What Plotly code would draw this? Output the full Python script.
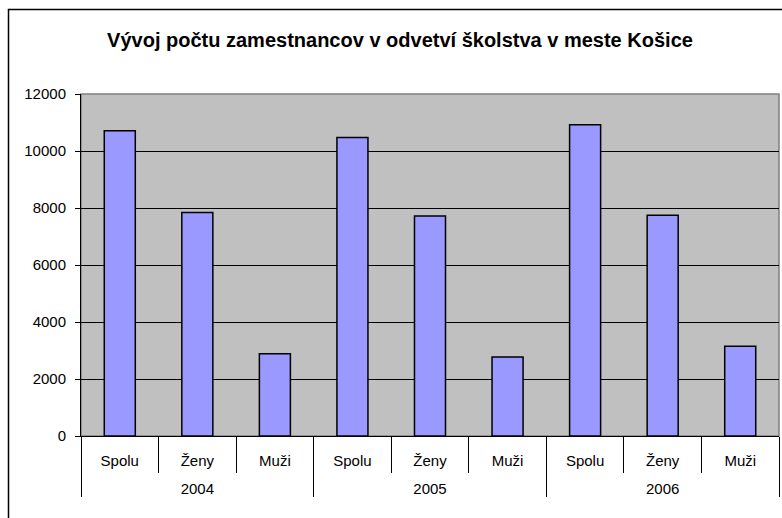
import plotly.graph_objects as go

years = ["2004", "2005", "2006"]
categories = ["Spolu", "Ženy", "Muži"]
values_2004 = [10710, 7845, 2890]
values_2005 = [10470, 7715, 2775]
values_2006 = [10920, 7750, 3150]
y_ticks = [0, 2000, 4000, 6000, 8000, 10000, 12000]
y_tick_labels = ["0", "2000", "4000", "6000", "8000", "10000", "12000"]
title_text = "Vývoj počtu zamestnancov v odvetví školstva v meste Košice"

all_values = [values_2004, values_2005, values_2006]
x_years = ["<br>" + y for y in years for _ in categories]
x_cats = [c for _ in years for c in categories]
y_vals = [v for vals in all_values for v in vals]

FONT = "Liberation Sans, Arial, sans-serif"

fig = go.Figure()
fig.add_trace(go.Bar(
    x=[x_years, x_cats],
    y=y_vals,
    marker=dict(color="#9999FF", line=dict(color="black", width=1.5)),
    showlegend=False,
))

W, H = 782, 518
L, R, T, B = 81, 3, 94, 82
pw = W - L - R
ph = H - T - B

fig.update_layout(
    width=W, height=H,
    margin=dict(l=L, r=R, t=T, b=B),
    paper_bgcolor="white",
    plot_bgcolor="#C0C0C0",
    bargap=0.6,
    font=dict(family=FONT, color="black", size=15),
    title=dict(
        text="<b>" + title_text + "</b>",
        font=dict(family=FONT, size=20, color="black"),
        x=400 / W, xanchor="center", xref="container",
        y=1 - 40 / H, yanchor="middle",
    ),
    xaxis=dict(
        type="multicategory",
        showline=True, linecolor="black", linewidth=1,
        ticks="outside", ticklen=36, tickcolor="black", tickwidth=1,
        showdividers=True, dividercolor="black", dividerwidth=1,
        tickfont=dict(family=FONT, size=15, color="black"),
        ticklabelstandoff=11,
        showgrid=False,
    ),
    yaxis=dict(
        range=[0, 12000],
        tickvals=y_ticks, ticktext=y_tick_labels,
        showline=True, linecolor="black", linewidth=1,
        ticks="outside", ticklen=5, tickcolor="black",
        showgrid=True, gridcolor="black", gridwidth=1,
        zeroline=False,
        tickfont=dict(family=FONT, size=15, color="black"),
        ticklabelstandoff=6,
    ),
    shapes=[
        dict(type="rect", xref="paper", yref="paper",
             x0=0, x1=1, y0=0, y1=1,
             line=dict(color="#808080", width=1.5), layer="between"),
        dict(type="rect", xref="paper", yref="paper",
             x0=(8.5 - L) / pw, x1=(W + 10 - L) / pw,
             y0=-(H + 10 - T - ph) / ph, y1=(H - B - 9.5) / ph,
             line=dict(color="black", width=1.5), fillcolor="rgba(0,0,0,0)",
             layer="above"),
    ],
)

fig.write_html("out.html", config={"displayModeBar": False},
               post_script="document.body.style.margin='0';")
